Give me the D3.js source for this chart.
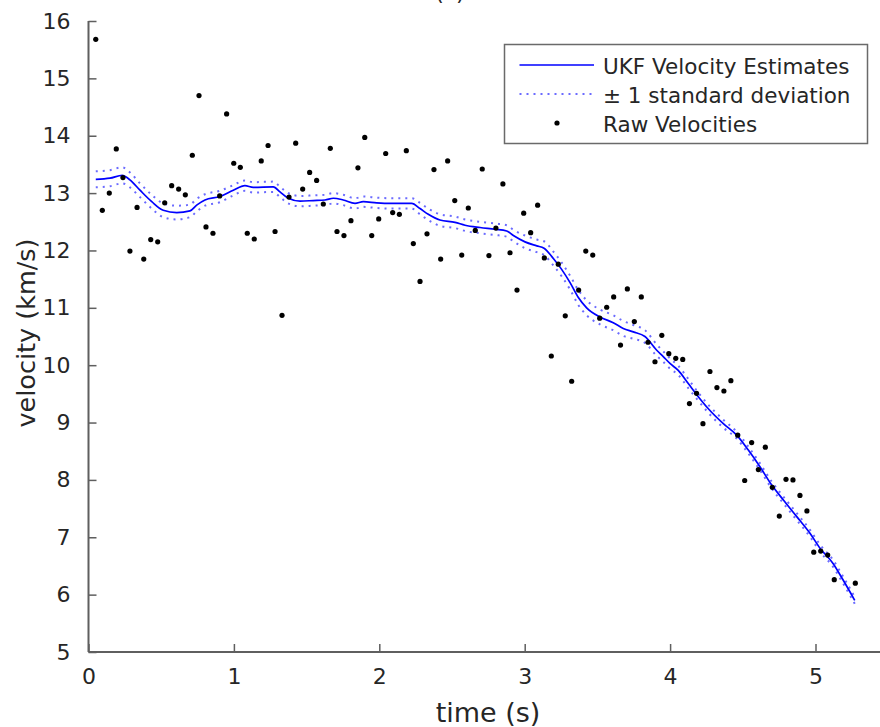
<!DOCTYPE html>
<html>
<head>
<meta charset="utf-8">
<script src="https://cdn.jsdelivr.net/npm/d3@7"></script>
<style>
  html, body { margin: 0; padding: 0; background: #fff; }
  svg { display: block; }
  text { font-family: "DejaVu Sans", sans-serif; fill: #262626; }
</style>
</head>
<body>
<svg id="chart" width="880" height="727"></svg>
<script>
// ---- data ----
const rawT = [0.050,0.095,0.143,0.191,0.237,0.285,0.334,0.380,0.428,0.476,
  0.524,0.572,0.620,0.666,0.714,0.760,0.808,0.856,0.902,0.950,
  0.999,1.044,1.092,1.140,1.188,1.235,1.283,1.331,1.379,1.425,
  1.473,1.521,1.569,1.615,1.663,1.709,1.757,1.805,1.853,1.900,
  1.948,1.996,2.044,2.092,2.138,2.186,2.234,2.280,2.328,2.376,
  2.422,2.470,2.519,2.567,2.612,2.660,2.708,2.754,2.802,2.850,
  2.899,2.947,2.993,3.041,3.089,3.135,3.183,3.231,3.279,3.323,
  3.371,3.420,3.468,3.516,3.564,3.612,3.659,3.706,3.754,3.802,
  3.848,3.896,3.943,3.991,4.039,4.087,4.133,4.182,4.226,4.274,
  4.322,4.370,4.418,4.465,4.513,4.561,4.607,4.655,4.703,4.751,
  4.797,4.845,4.893,4.941,4.988,5.036,5.084,5.129,5.274];
const rawV = [15.68,12.70,13.00,13.77,13.27,11.99,12.75,11.85,12.19,12.15,
  12.83,13.13,13.07,12.97,13.66,14.70,12.41,12.30,12.95,14.38,
  13.52,13.45,12.30,12.20,13.56,13.83,12.33,10.87,12.93,13.87,
  13.07,13.36,13.22,12.81,13.78,12.33,12.26,12.52,13.44,13.97,
  12.26,12.55,13.69,12.66,12.63,13.74,12.12,11.46,12.29,13.41,
  11.85,13.56,12.87,11.92,12.74,12.35,13.42,11.91,12.39,13.16,
  11.96,11.31,12.65,12.31,12.79,11.87,10.16,11.76,10.86,9.72,
  11.31,11.99,11.92,10.82,11.01,11.19,10.35,11.33,10.76,11.19,
  10.40,10.06,10.52,10.20,10.12,10.10,9.33,9.51,8.98,9.89,
  9.61,9.55,9.73,8.78,7.99,8.65,8.18,8.57,7.87,7.37,
  8.01,8.00,7.73,7.46,6.74,6.76,6.69,6.26,6.20];

const estT = [0.05,0.148,0.232,0.285,0.354,0.435,0.514,0.607,0.698,0.744,
  0.801,0.904,0.996,1.076,1.133,1.271,1.317,1.374,1.455,1.546,
  1.627,1.684,1.752,1.833,1.890,1.982,2.074,2.223,2.280,2.337,
  2.417,2.521,2.590,2.693,2.796,2.876,2.922,3.002,3.083,3.133,
  3.197,3.254,3.312,3.369,3.426,3.518,3.609,3.678,3.747,3.827,
  3.908,3.953,3.999,4.056,4.125,4.194,4.263,4.366,4.458,4.538,
  4.618,4.699,4.779,4.871,4.962,5.031,5.122,5.191,5.270];
const estV = [13.24,13.26,13.31,13.23,13.05,12.85,12.70,12.66,12.69,12.79,
  12.88,12.94,13.05,13.13,13.10,13.11,13.02,12.91,12.86,12.87,
  12.88,12.91,12.88,12.82,12.85,12.83,12.82,12.82,12.73,12.63,
  12.53,12.49,12.44,12.40,12.37,12.34,12.26,12.15,12.08,12.04,
  11.86,11.67,11.44,11.18,11.00,10.84,10.74,10.64,10.58,10.50,
  10.26,10.15,10.03,9.91,9.68,9.45,9.24,8.98,8.78,8.52,
  8.23,7.91,7.65,7.36,7.07,6.81,6.54,6.25,5.90];
const estSD = [0.14,0.14,0.14,0.13,0.12,0.12,0.12,0.12,0.11,0.11,
  0.10,0.10,0.09,0.09,0.09,0.09,0.09,0.09,0.09,0.09,
  0.09,0.09,0.09,0.09,0.09,0.09,0.09,0.09,0.10,0.10,
  0.10,0.10,0.10,0.10,0.10,0.10,0.10,0.11,0.11,0.12,
  0.12,0.12,0.12,0.13,0.13,0.13,0.13,0.13,0.12,0.11,
  0.10,0.09,0.09,0.08,0.08,0.07,0.07,0.07,0.06,0.06,
  0.06,0.06,0.06,0.06,0.06,0.06,0.06,0.06,0.06];

const xTicks = [0, 1, 2, 3, 4, 5];
const yTicks = [5, 6, 7, 8, 9, 10, 11, 12, 13, 14, 15, 16];
const legendLabels = ["UKF Velocity Estimates", "\u00B1 1 standard deviation", "Raw Velocities"];
const titleText = "(c)";
const xLabel = "time (s)";
const yLabel = "velocity (km/s)";

// ---- drawing ----
const svg = d3.select("#chart");
const x = d3.scaleLinear().domain([0, 5.5]).range([88.5, 888.2]);
const y = d3.scaleLinear().domain([5, 16]).range([652, 21]);

const est = estT.map((t, i) => ({ t, v: estV[i], sd: estSD[i] }));
const raw = rawT.map((t, i) => ({ t, v: rawV[i] }));

const axisColor = "#5f5f5f";

// title (mostly cut off at the top edge, as in the reference)
svg.append("text").attr("x", 450).attr("y", 0).attr("text-anchor", "middle")
  .style("font-size", "22px").text(titleText);

// std bands
const curve = d3.curveMonotoneX;
const lineUp = d3.line().x(d => x(d.t)).y(d => y(d.v + d.sd)).curve(curve);
const lineDn = d3.line().x(d => x(d.t)).y(d => y(d.v - d.sd)).curve(curve);
const lineMid = d3.line().x(d => x(d.t)).y(d => y(d.v)).curve(curve);

[lineUp, lineDn].forEach(l => {
  svg.append("path").datum(est).attr("d", l)
    .attr("fill", "none").attr("stroke", "#6b6bff")
    .attr("stroke-width", 2).attr("stroke-dasharray", "2,5");
});
svg.append("path").datum(est).attr("d", lineMid)
  .attr("fill", "none").attr("stroke", "#0000ff").attr("stroke-width", 1.7);

// raw points
svg.append("g").selectAll("circle").data(raw).join("circle")
  .attr("cx", d => x(d.t)).attr("cy", d => y(d.v)).attr("r", 2.6).attr("fill", "#000");

// axes
const xAxis = d3.axisBottom(x).tickValues(xTicks).tickFormat(d3.format("d"))
  .tickSizeInner(-8).tickSizeOuter(0).tickPadding(16);
const yAxis = d3.axisLeft(y).tickValues(yTicks).tickFormat(d3.format("d"))
  .tickSizeInner(-8).tickSizeOuter(0).tickPadding(18);

const gx = svg.append("g").attr("transform", "translate(0,652)").call(xAxis);
const gy = svg.append("g").attr("transform", "translate(88.5,0)").call(yAxis);
[gx, gy].forEach(g => {
  g.select(".domain").attr("stroke", axisColor).attr("stroke-width", 2);
  g.selectAll(".tick line").attr("stroke", axisColor).attr("stroke-width", 1.5);
  g.selectAll(".tick text").style("font-size", "22px")
    .style("font-family", '"DejaVu Sans", sans-serif').attr("fill", "#262626");
});
gx.select(".domain").attr("d", `M${x(0)},0H880`);
gy.select(".domain").attr("d", `M0,${y(5)}V${y(16)}`);

// axis labels
svg.append("text").attr("x", 488).attr("y", 721.5)
  .attr("text-anchor", "middle").style("font-size", "27px").text(xLabel);
svg.append("text").attr("transform", "translate(35,333) rotate(-90)")
  .attr("text-anchor", "middle").style("font-size", "25.5px").text(yLabel);

// legend
const lg = svg.append("g");
lg.append("rect").attr("x", 504.5).attr("y", 44.5).attr("width", 363).attr("height", 99)
  .attr("fill", "#fff").attr("stroke", "#6a6a6a").attr("stroke-width", 1.5);
const rowsY = [65, 94, 123];
lg.append("line").attr("x1", 519.5).attr("x2", 594).attr("y1", rowsY[0]).attr("y2", rowsY[0])
  .attr("stroke", "#0000ff").attr("stroke-width", 1.7);
lg.append("line").attr("x1", 519.5).attr("x2", 594).attr("y1", rowsY[1]).attr("y2", rowsY[1])
  .attr("stroke", "#6b6bff").attr("stroke-width", 2).attr("stroke-dasharray", "2,5");
lg.append("circle").attr("cx", 557).attr("cy", rowsY[2]).attr("r", 2.6).attr("fill", "#000");
legendLabels.forEach((s, i) => {
  lg.append("text").attr("x", 603).attr("y", rowsY[i] + 8.5)
    .style("font-size", "21.5px").text(s);
});
</script>
</body>
</html>
